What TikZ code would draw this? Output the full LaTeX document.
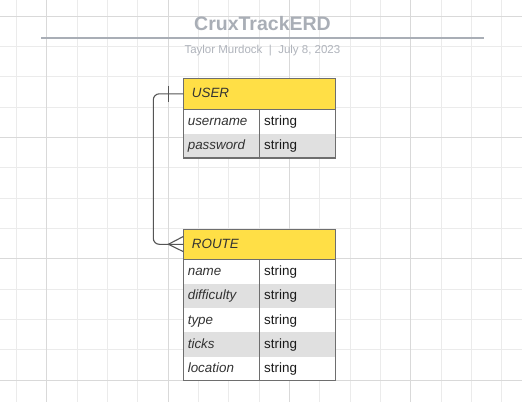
\documentclass[tikz,border=0pt]{standalone}
\usepackage{fontspec}
\setmainfont{Liberation Sans}
\definecolor{gridminor}{HTML}{EBEBEB}
\definecolor{gridmajor}{HTML}{D9D9D9}
\definecolor{titlecol}{HTML}{A9AEB6}
\definecolor{subcol}{HTML}{B0B4BC}
\definecolor{hdryellow}{HTML}{FFDF46}
\definecolor{rowgray}{HTML}{E0E0E0}
\definecolor{bordercol}{HTML}{6E6E6E}
\definecolor{conncol}{HTML}{555555}
\definecolor{txtcol}{HTML}{333333}
\definecolor{typecol}{HTML}{1A1A1A}
\tikzset{
  hdr/.style={draw=bordercol, fill=hdryellow, line width=1.2pt, minimum width=152.4pt, minimum height=#1, inner sep=0pt, outer sep=0pt, anchor=north west},
  hdrtext/.style={anchor=base west, inner sep=0pt, text=txtcol, font=\itshape\fontsize{13.4}{14}\selectfont},
  attrtext/.style={anchor=base west, inner sep=0pt, text=txtcol, font=\itshape\fontsize{13.4}{14}\selectfont},
  typetext/.style={anchor=base west, inner sep=0pt, text=typecol, font=\fontsize{13.4}{14}\selectfont},
  tableframe/.style={draw=bordercol, line width=1.2pt},
  conn/.style={draw=conncol, line width=1.1pt},
}
\begin{document}
\begin{tikzpicture}[x=1pt, y=-1pt]
\useasboundingbox (0,0) rectangle (522,402);
\fill[white] (0,0) rectangle (522,402);
% grid
\foreach \i in {0,...,16} {
  \pgfmathsetmacro\gx{16.3+30.35*\i}
  \draw[gridminor, line width=1pt] (\gx,0) -- (\gx,402);
}
\foreach \j in {0,...,12} {
  \pgfmathsetmacro\gy{16+30.35*\j}
  \draw[gridminor, line width=1pt] (0,\gy) -- (522,\gy);
}
\foreach \i in {1,5,9,13} {
  \pgfmathsetmacro\gx{16.3+30.35*\i}
  \draw[gridmajor, line width=1pt] (\gx,0) -- (\gx,402);
}
\foreach \j in {0,4,8,12} {
  \pgfmathsetmacro\gy{16+30.35*\j}
  \draw[gridmajor, line width=1pt] (0,\gy) -- (522,\gy);
}
% title block
\node[anchor=base, inner sep=0pt, text=titlecol, font=\bfseries\fontsize{19.5}{20}\selectfont] (title) at (262.5,30.7) {CruxTrackERD};
\coordinate (ruleL) at (41,37.7);
\coordinate (ruleR) at (484,37.7);
\draw[titlecol, line width=2pt] (ruleL) -- (ruleR);
\node[anchor=base, inner sep=0pt, text=subcol, font=\fontsize{11.5}{12}\selectfont] (subtitle) at (262.4,53.3) {Taylor Murdock\ \ |\ \ July 8, 2023};

% USER table
\fill[white] (183.3,109.3) rectangle (335.7,133.6);
\fill[rowgray] (183.3,133.6) rectangle (335.7,158);
\draw[tableframe] (183.3,109.3) rectangle (335.7,158);
\draw[tableframe] (259.5,109.3) -- (259.5,158);
\node[hdr=31pt] (user) at (183.3,78.3) {};
\node[hdrtext] (userlbl) at (191.7,97.5) {USER};
\node[attrtext] (u1) at (187.6,125.5) {username};
\node[typetext] (u1t) at (264,125.5) {string};
\node[attrtext] (u2) at (187.6,149.8) {password};
\node[typetext] (u2t) at (264,149.8) {string};

% ROUTE table
\fill[white] (183.3,259.3) rectangle (335.7,283.6);
\fill[rowgray] (183.3,283.6) rectangle (335.7,307.9);
\fill[white] (183.3,307.9) rectangle (335.7,332.2);
\fill[rowgray] (183.3,332.2) rectangle (335.7,356.5);
\fill[white] (183.3,356.5) rectangle (335.7,380.8);
\draw[tableframe] (183.3,259.3) rectangle (335.7,380.8);
\draw[tableframe] (259.5,259.3) -- (259.5,380.8);
\node[hdr=30pt] (route) at (183.3,229.3) {};
\node[hdrtext] (routelbl) at (191.7,248) {ROUTE};
\node[attrtext] (r1) at (187.6,275.5) {name};
\node[typetext] (r1t) at (264,275.5) {string};
\node[attrtext] (r2) at (187.6,299.8) {difficulty};
\node[typetext] (r2t) at (264,299.8) {string};
\node[attrtext] (r3) at (187.6,324.1) {type};
\node[typetext] (r3t) at (264,324.1) {string};
\node[attrtext] (r4) at (187.6,348.4) {ticks};
\node[typetext] (r4t) at (264,348.4) {string};
\node[attrtext] (r5) at (187.6,372.7) {location};
\node[typetext] (r5t) at (264,372.7) {string};

% connector
\coordinate (elbowTop) at (153.3,93.8);
\coordinate (elbowBot) at (153.3,244.3);
\draw[conn, rounded corners=6pt] (user.west) -- (elbowTop) -- (elbowBot) -- (route.west);
\coordinate (barTop) at (168.3,85.7);
\coordinate (barBot) at (168.3,101.7);
\draw[conn] (barTop) -- (barBot);
\coordinate (footTip) at (168.3,244.3);
\draw[conn] ([yshift=-7.3pt]route.west) -- (footTip) -- ([yshift=7.8pt]route.west);
\end{tikzpicture}
\end{document}
